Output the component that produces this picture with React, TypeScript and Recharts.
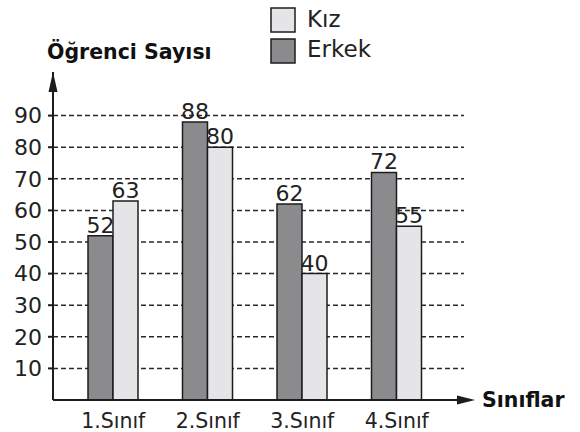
import React from 'react'
import { BarChart, Bar, XAxis, YAxis, CartesianGrid, LabelList } from 'recharts'

const categories = ['1.Sınıf', '2.Sınıf', '3.Sınıf', '4.Sınıf']
const erkek = [52, 88, 62, 72]
const kiz = [63, 80, 40, 55]
const yTicks = [10, 20, 30, 40, 50, 60, 70, 80, 90]

const data = categories.map((c, i) => ({ sinif: c, Erkek: erkek[i], Kiz: kiz[i] }))

const FONT = '"DejaVu Sans", sans-serif'
const INK = '#1c1c1c'
const DARK = '#8b8b8d'
const LIGHT = '#e5e5e7'

export default function App() {
    return (
        <div style={{ position: 'absolute', left: 0, top: 0, width: 580, height: 432, background: '#fff' }}>
            <BarChart
                width={580}
                height={432}
                data={data}
                margin={{ top: 72, right: 116, bottom: 0, left: 0 }}
                barGap={0}
                barSize={25}
            >
                <CartesianGrid
                    horizontal
                    vertical={false}
                    horizontalValues={yTicks}
                    stroke="#2a2a2a"
                    strokeWidth={1.5}
                    strokeDasharray="5 3"
                />
                <XAxis
                    dataKey="sinif"
                    height={32}
                    padding={{ left: 13, right: 20 }}
                    axisLine={{ stroke: INK, strokeWidth: 2 }}
                    tickLine={false}
                    tickMargin={7}
                    tick={{ fontSize: 20.5, fill: '#222', fontFamily: FONT }}
                />
                <YAxis
                    width={53}
                    domain={[0, 103.8]}
                    allowDataOverflow
                    ticks={yTicks}
                    tickSize={5}
                    tickMargin={6}
                    axisLine={{ stroke: INK, strokeWidth: 2 }}
                    tickLine={{ stroke: INK, strokeWidth: 2 }}
                    tick={{ fontSize: 22, fill: '#222', fontFamily: FONT }}
                />
                <Bar dataKey="Erkek" fill={DARK} stroke={INK} strokeWidth={1.5} isAnimationActive={false}>
                    <LabelList dataKey="Erkek" position="top" offset={3} style={{ fontSize: 22, fill: '#222', fontFamily: FONT }} />
                </Bar>
                <Bar dataKey="Kiz" fill={LIGHT} stroke={INK} strokeWidth={1.5} isAnimationActive={false}>
                    <LabelList dataKey="Kiz" position="top" offset={3} style={{ fontSize: 22, fill: '#222', fontFamily: FONT }} />
                </Bar>
            </BarChart>

            {/* axis arrows, titles and legend */}
            <svg width={580} height={432} style={{ position: 'absolute', left: 0, top: 0, pointerEvents: 'none' }}>
                <polygon points="53,72 48.5,92 57.5,92" fill={INK} />
                <line x1={463} y1={400} x2={460} y2={400} stroke={INK} strokeWidth={2} />
                <polygon points="475,400 457,395.5 457,404.5" fill={INK} />
                <text x={47} y={59} fontFamily={FONT} fontWeight="bold" fontSize={20.5} fill="#111">Öğrenci Sayısı</text>
                <text x={482} y={407} fontFamily={FONT} fontWeight="bold" fontSize={20.5} fill="#111">Sınıflar</text>

                <rect x={271} y={8} width={24} height={24} fill={LIGHT} stroke={INK} strokeWidth={1.5} />
                <text x={307} y={27} fontFamily={FONT} fontSize={23} fill="#222">Kız</text>
                <rect x={271} y={39} width={24} height={24} fill={DARK} stroke={INK} strokeWidth={1.5} />
                <text x={307} y={57} fontFamily={FONT} fontSize={23} fill="#222">Erkek</text>
            </svg>
        </div>
    )
}
